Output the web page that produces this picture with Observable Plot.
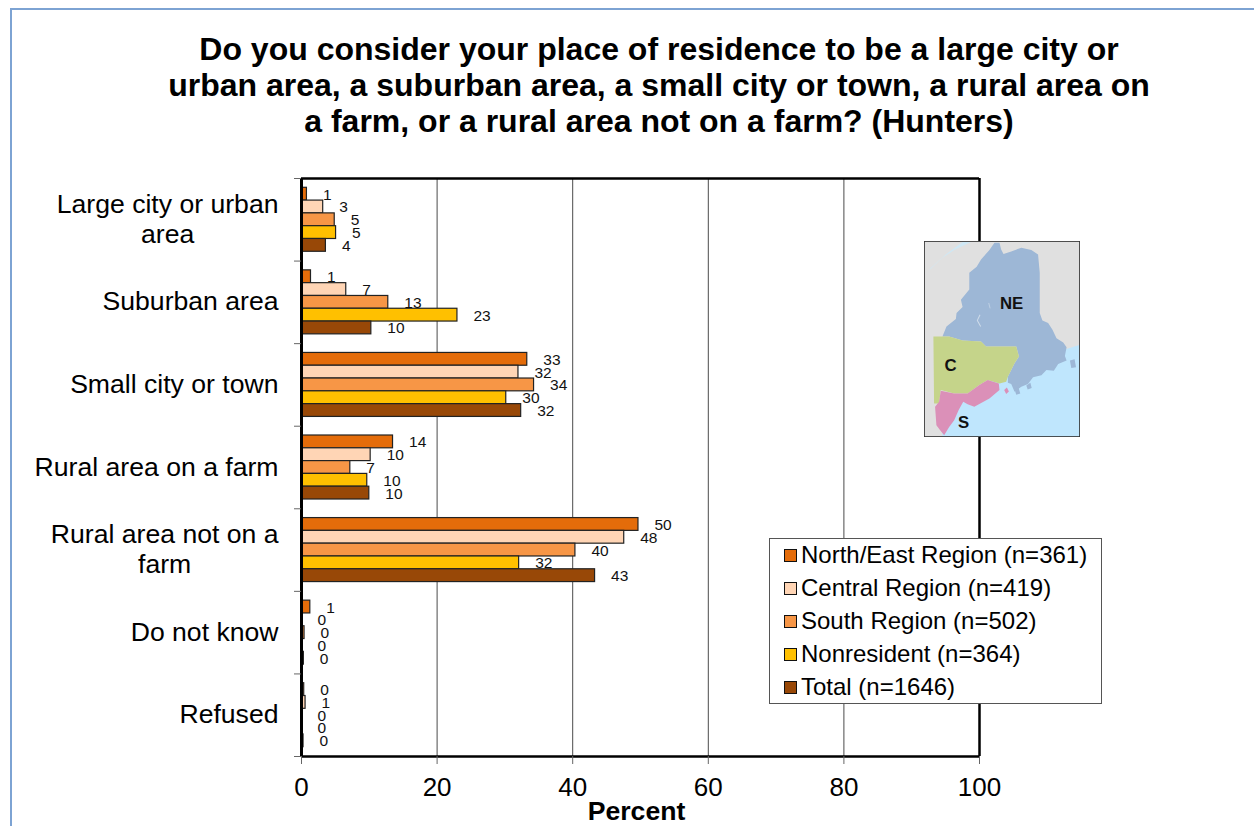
<!DOCTYPE html>
<html><head><meta charset="utf-8">
<script src="https://cdn.jsdelivr.net/npm/d3@7"></script>
<script src="https://cdn.jsdelivr.net/npm/@observablehq/plot@0.6"></script>
<style>
html,body{margin:0;padding:0;background:#fff;width:1254px;height:826px;overflow:hidden;font-family:"Liberation Sans",Arial,sans-serif;color:#000}
#page{position:relative;width:1254px;height:826px;overflow:hidden}
#edgeTop{position:absolute;left:10px;top:8px;right:0;height:2px;background:#7da3d3}
#edgeLeft{position:absolute;left:10px;top:8px;bottom:0;width:2px;background:#7da3d3}
#title{position:absolute;left:0;top:31px;width:1318px;text-align:center;font-weight:bold;font-size:32px;line-height:36px}
#chart{position:absolute;left:0;top:160px}
#chart svg{overflow:visible;display:block;background:transparent}
#map{position:absolute;left:924px;top:241px;width:156px;height:196px}
#legend{position:absolute;left:769px;top:538px;width:331px;height:164px;background:#fff;border:1px solid #555;font-size:24px}
.row{position:absolute;left:14px;height:33px;line-height:31px;white-space:nowrap}
.sw{position:absolute;left:0;top:10px;width:11px;height:11px;border:1px solid #111}
.lab{position:absolute;left:17px;top:0}
</style></head><body>
<div id="page">
<div id="edgeTop"></div><div id="edgeLeft"></div>
<div id="title">Do you consider your place of residence to be a large city or<br>urban area, a suburban area, a small city or town, a rural area on<br>a farm, or a rural area not on a farm? (Hunters)</div>
<div id="chart"></div>
<svg id="map" viewBox="75 35 465 585" preserveAspectRatio="none">
<defs><filter id="soft"><feGaussianBlur stdDeviation="1.6"/></filter></defs>
<rect x="75" y="35" width="465" height="585" fill="#e0e0e0"/>
<g filter="url(#soft)">
<polygon fill="#bfe6fd" points="540,345 490,360 400,430 340,430 300,440 200,500 125,560 130,620 540,620"/>
<polygon fill="#cfe8f5" points="95,118 130,85 165,62 215,38 190,38 140,75 88,122"/>
<polygon fill="#9db7d6" points="285,40 300,40 305,60 312,74 335,66 365,55 395,62 415,75 420,130 420,250 428,272 445,280 458,300 470,325 490,338 500,352 495,378 500,392 475,402 462,422 440,420 425,436 400,442 385,462 365,470 345,485 335,462 325,458 325,440 345,400 358,380 350,350 260,350 245,335 190,332 150,320 130,320 142,290 170,268 172,250 190,232 185,210 210,180 210,130 232,112 245,90 270,62"/>
<polygon fill="#c5d48a" points="103,320 130,320 150,320 190,332 245,335 260,350 350,350 358,380 345,400 325,440 320,455 300,460 265,450 240,465 205,490 165,490 125,480 120,520 105,520"/>
<polygon fill="#db90b8" points="125,482 165,490 205,490 240,465 265,450 298,460 300,480 270,505 225,530 205,522 192,515 178,540 165,570 150,590 135,615 122,598 112,585 108,530 120,515"/>
<polygon fill="#db90b8" points="314,480 322,472 328,484 320,492"/>
<polygon fill="#9db7d6" points="345,478 356,470 362,490 350,494"/>
<polygon fill="#9db7d6" points="380,466 392,458 396,474 384,478"/>
<polygon fill="#9db7d6" points="510,392 524,388 528,412 514,414"/>
<polyline fill="none" stroke="#cfdcea" stroke-width="3" points="242,255 234,272 244,290"/>
<polyline fill="none" stroke="#cfdcea" stroke-width="2" points="268,220 272,236"/>
</g>
<text x="336" y="238" text-anchor="middle" font-size="50" font-weight="bold" fill="#111" font-family="Liberation Sans">NE</text>
<text x="154" y="422" text-anchor="middle" font-size="50" font-weight="bold" fill="#111" font-family="Liberation Sans">C</text>
<text x="193" y="593" text-anchor="middle" font-size="50" font-weight="bold" fill="#111" font-family="Liberation Sans">S</text>
<rect x="75" y="35" width="465" height="585" fill="none" stroke="#333" stroke-width="5"/>
</svg>
<div id="legend"></div>
</div>
<script>
const categories = ["Large city or urban\narea", "Suburban area", "Small city or town", "Rural area on a farm", "Rural area not on a\nfarm", "Do not know", "Refused"];
const seriesNames = ["North/East Region (n=361)", "Central Region (n=419)", "South Region (n=502)", "Nonresident (n=364)", "Total (n=1646)"];
const seriesColors = ["#e46c0a", "#ffd5b5", "#f79646", "#ffc000", "#984807"];
const northEast   = [0.8, 1.4, 33.3, 13.5, 49.7, 1.3, 0.4];
const central     = [3.2, 6.6, 32.0, 10.2, 47.6, 0, 0.6];
const south       = [4.9, 12.8, 34.3, 7.2, 40.4, 0.45, 0];
const nonresident = [5.1, 23.0, 30.2, 9.7, 32.1, 0, 0];
const total       = [3.6, 10.3, 32.4, 10.0, 43.3, 0.35, 0.3];
const xTicks = [0, 20, 40, 60, 80, 100];
const gridValues = [20, 40, 60, 80];

const seriesValues = [northEast, central, south, nonresident, total];
const slot = 0.155, lead = 0.1125;
const rows = seriesValues.flatMap((values, s) => values.map((value, c) => ({
  category: categories[c], series: seriesNames[s], value,
  y1: c + lead + s * slot, y2: c + lead + (s + 1) * slot, ym: c + lead + (s + 0.5) * slot
})));
const groupEdges = d3.range(categories.length + 1);

// Labels are a right-aligned block whose shorter second line is centred under the first.
const labelFont = 26.6, labelGap = 23;
const measure = document.createElement("canvas").getContext("2d");
measure.font = `${labelFont}px "Liberation Sans", Arial, sans-serif`;
const labelLines = categories.map((c, i) => ({pos: i + 0.5, lines: c.split("\n")}));
const labelMarks = labelLines.flatMap(({pos, lines}) => {
  const base = {x: 0, y: pos, fontSize: labelFont, fill: "#000"};
  if (lines.length === 1) return [Plot.text([lines[0]], {...base, dx: -labelGap, dy: -0.5, textAnchor: "end"})];
  const half = measure.measureText(lines[0]).width / 2;
  return [
    Plot.text([lines[0]], {...base, dx: -labelGap, dy: -15.5, textAnchor: "end"}),
    Plot.text([lines[1]], {...base, dx: -labelGap - half, dy: 14.5, textAnchor: "middle"})
  ];
});

const chart = Plot.plot({
  width: 1254, height: 666,
  marginLeft: 301, marginRight: 275, marginTop: 18, marginBottom: 70,
  style: {fontFamily: '"Liberation Sans", Arial, sans-serif', color: "#000", background: "transparent"},
  x: {domain: [0, 100]},
  y: {domain: [categories.length, 0]},
  color: {domain: seriesNames, range: seriesColors},
  marks: [
    Plot.ruleX(gridValues, {stroke: "#4a4a4a", strokeWidth: 1}),
    Plot.rect(rows.filter(d => d.value > 0), {x1: 0, x2: "value", y1: "y1", y2: "y2", fill: "series", stroke: "#222", strokeWidth: 1.2}),
    Plot.text(rows, {x: "value", y: "ym", text: d => d3.format(".0f")(d.value), dx: 16, dy: 0.5, textAnchor: "start", fontSize: 15.5, fill: "#111"}),
    Plot.ruleX([0], {stroke: "#000", strokeWidth: 3}),
    Plot.ruleX([100], {stroke: "#000", strokeWidth: 2.5}),
    Plot.ruleY([0, categories.length], {stroke: "#000", strokeWidth: 2.5}),
    Plot.axisX({ticks: xTicks, tickSize: 8, tickPadding: 13, stroke: "#666", fontSize: 26, label: null, tickFormat: d3.format("d")}),
    Plot.axisY({ticks: groupEdges, tickSize: 7, stroke: "#666", tickFormat: () => "", label: null}),
    ...labelMarks,
    Plot.text(["Percent"], {x: 50, frameAnchor: "bottom", dx: -4, dy: 63, fontSize: 26.6, fontWeight: "bold", fill: "#000"})
  ]
});
document.getElementById("chart").appendChild(chart);

const legend = document.getElementById("legend");
seriesNames.forEach((name, i) => {
  const row = document.createElement("div");
  row.className = "row";
  row.style.top = (i * 33) + "px";
  row.innerHTML = `<span class="sw" style="background:${seriesColors[i]}"></span><span class="lab">${name}</span>`;
  legend.appendChild(row);
});
</script>
</body></html>
